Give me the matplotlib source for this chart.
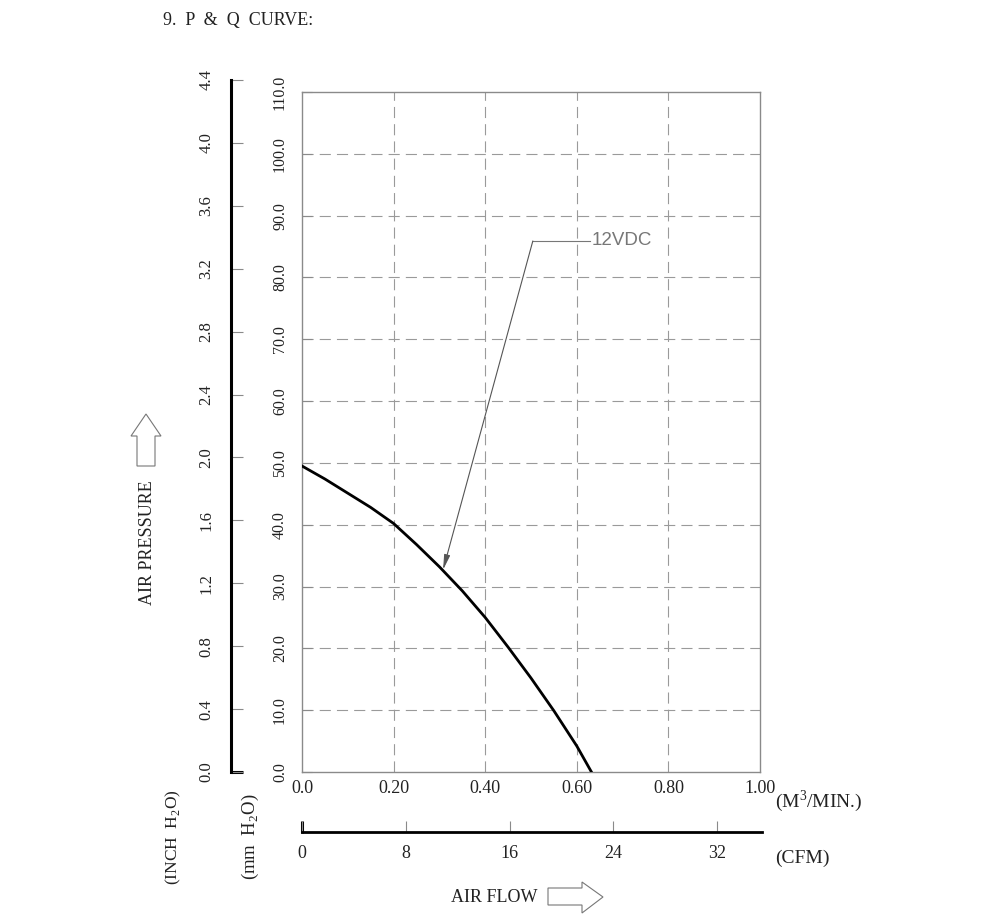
import numpy as np
import matplotlib.pyplot as plt
from matplotlib.patches import Polygon

plt.rcParams['font.family'] = ['Liberation Serif', 'DejaVu Serif']
plt.rcParams['mathtext.fontset'] = 'custom'
plt.rcParams['mathtext.rm'] = 'Liberation Serif'

# P-Q curve (flow in m3/min, static pressure in mm H2O)
flow_m3 = [0.0, 0.05, 0.10, 0.15, 0.20, 0.25, 0.30, 0.35, 0.40, 0.45, 0.50, 0.55, 0.60, 0.632]
pressure_mm = [49.5, 47.4, 45.1, 42.8, 40.2, 36.8, 33.2, 29.3, 25.0, 20.2, 15.2, 9.9, 4.2, 0.0]

flow_ticks = [0.0, 0.2, 0.4, 0.6, 0.8, 1.0]
flow_labels = ['0.0', '0.20', '0.40', '0.60', '0.80', '1.00']
mm_ticks = [0, 10, 20, 30, 40, 50, 60, 70, 80, 90, 100, 110]
mm_labels = ['%.1f' % v for v in mm_ticks]
inch_ticks = [0.0, 0.4, 0.8, 1.2, 1.6, 2.0, 2.4, 2.8, 3.2, 3.6, 4.0, 4.4]
inch_labels = ['%.1f' % v for v in inch_ticks]
cfm_ticks = [0, 8, 16, 24, 32]
cfm_labels = [str(v) for v in cfm_ticks]
CFM_PER_M3MIN = 35.31

label_flow = 0.504      # where the 12VDC leader bends
label_p = 85.9
arrow_flow = 0.308      # where the leader touches the curve
arrow_p = 32.7

W, H = 1000, 919
fig = plt.figure(figsize=(10, 9.19), dpi=100)


def box(l, t, r, b):
    return [l / W, 1 - b / H, (r - l) / W, (b - t) / H]


grid_c = '#9a9a9a'
spine_c = '#8a8a8a'
txt_c = '#222222'

# overlay in pixel coords for the drawing decorations
ov = fig.add_axes([0, 0, 1, 1])
ov.set_xlim(0, W)
ov.set_ylim(H, 0)
ov.axis('off')

# main plot
ax = fig.add_axes(box(302, 92, 760, 772))
ax.patch.set_visible(False)
ax.set_xlim(0, 1)
ax.set_ylim(0, 110)
for s in ax.spines.values():
    s.set_color(spine_c)
    s.set_linewidth(1.0)
for y in mm_ticks[1:-1]:
    ax.axhline(y, color=grid_c, lw=0.8, ls=(0, (10, 5.5)), zorder=1)
for x in flow_ticks[1:-1]:
    ax.axvline(x, color=grid_c, lw=0.8, ls=(0, (10, 5.5)), zorder=1)

ax.plot(flow_m3, pressure_mm, color='black', lw=2.0, zorder=3)

ax.plot([label_flow, 0.629], [label_p, label_p], color='#777777', lw=0.8)
ax.annotate('', xy=(arrow_flow, arrow_p), xytext=(label_flow, label_p),
            arrowprops=dict(arrowstyle='-|>,head_length=0.9,head_width=0.18',
                            color='#555555', lw=0.8, shrinkA=0, shrinkB=0))
ax.text(0.633, label_p, '12VDC', family=['Liberation Sans', 'DejaVu Sans'],
        fontsize=13.5, color='#777777', va='center', ha='left')

ax.set_xticks(flow_ticks, flow_labels, fontsize=13, color=txt_c)
ax.set_yticks(mm_ticks, mm_labels, rotation=90, va='center', fontsize=11.5, color=txt_c)
ax.tick_params(axis='x', length=0, pad=6)
ax.tick_params(axis='y', direction='in', length=7, color=spine_c, width=0.8, pad=10)

# inch H2O scale
ax_in = fig.add_axes(box(231, 80, 232, 772))
ax_in.patch.set_visible(False)
ax_in.set_ylim(0, 4.4)
for k in ['top', 'right', 'bottom']:
    ax_in.spines[k].set_visible(False)
ax_in.spines['left'].set_linewidth(2.2)
ax_in.spines['left'].set_color('black')
ax_in.set_xticks([])
ax_in.set_yticks(inch_ticks, inch_labels, rotation=90, va='center', fontsize=12, color=txt_c)
ax_in.tick_params(axis='y', direction='in', length=8.5, color=spine_c, width=0.8, pad=12)

# CFM scale
ax_c = fig.add_axes(box(302, 820, 762, 832))
ax_c.patch.set_visible(False)
ax_c.set_xlim(0, CFM_PER_M3MIN * 460 / 458)
for k in ['top', 'right', 'left']:
    ax_c.spines[k].set_visible(False)
ax_c.spines['bottom'].set_linewidth(2.0)
ax_c.spines['bottom'].set_color('black')
ax_c.set_yticks([])
ax_c.set_xticks(cfm_ticks, cfm_labels, fontsize=13, color=txt_c)
ax_c.tick_params(axis='x', direction='in', length=8, color=spine_c, width=0.8, pad=9)

# feet of the thick scale lines
ov.plot([231, 243], [772, 772], color='black', lw=2.2, solid_capstyle='butt')
ov.plot([302, 302], [821, 833], color='black', lw=2.2, solid_capstyle='butt')

# texts
ov.text(163, 21, '9.  P  &  Q  CURVE:', fontsize=13, ha='left', va='center', color=txt_c)
ov.text(147, 543, 'AIR PRESSURE', fontsize=13, rotation=90, ha='center', va='center', color=txt_c)
ov.text(173, 837, r'(INCH  H$_{\mathregular{2}}$O)', fontsize=12.5, rotation=90,
        ha='center', va='center', color=txt_c)
ov.text(250, 837, r'(mm  H$_{\mathregular{2}}$O)', fontsize=13.5, rotation=90,
        ha='center', va='center', color=txt_c)
ov.text(775, 801, '(M$^{\\mathregular{3}}$/MIN.)', fontsize=14, ha='left', va='center', color=txt_c)
ov.text(775, 858, '(CFM)', fontsize=14, ha='left', va='center', color=txt_c)
ov.text(494, 897, 'AIR FLOW', fontsize=13, ha='center', va='center', color=txt_c)

# outline arrows
up = [(146, 414), (161, 436), (155, 436), (155, 466), (137, 466), (137, 436), (131, 436)]
right = [(603, 897), (582, 882), (582, 888), (548, 888), (548, 905), (582, 905), (582, 913)]
for pts in (up, right):
    ov.add_patch(Polygon(pts, closed=True, fill=False, edgecolor='#777777', lw=0.8))

fig.savefig('out.png', dpi=100)
